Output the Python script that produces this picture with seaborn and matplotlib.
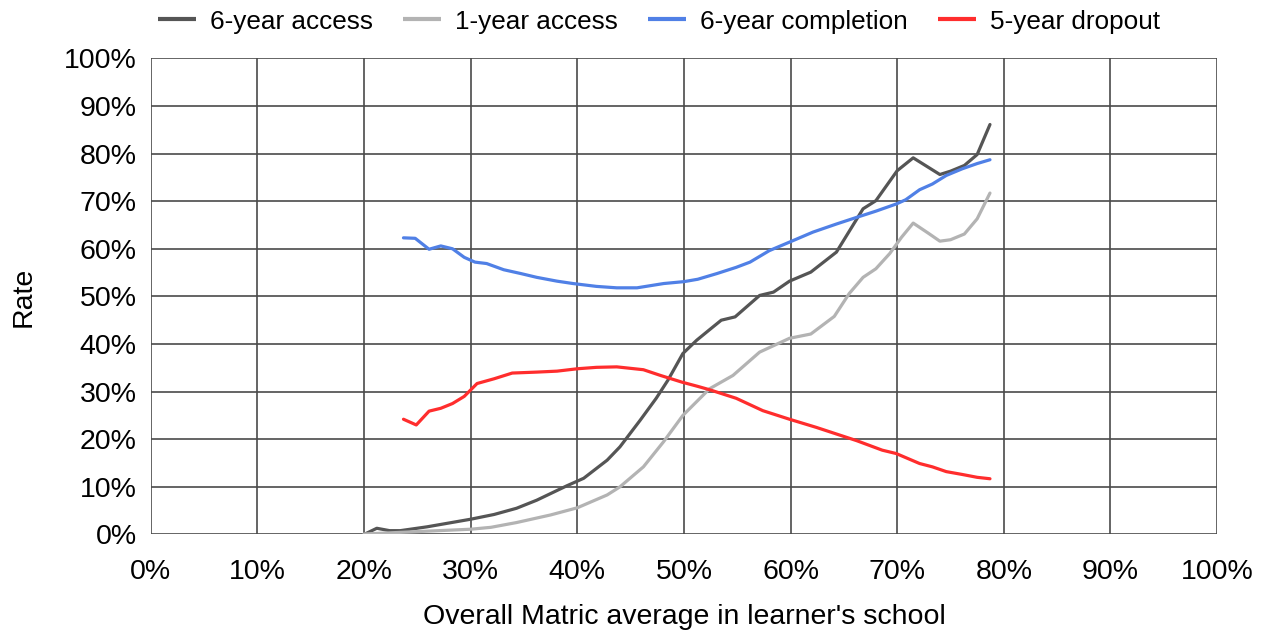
import matplotlib
matplotlib.use("Agg")
import matplotlib.pyplot as plt
from matplotlib.ticker import PercentFormatter, MultipleLocator
import seaborn as sns
import pandas as pd

# Series values (percent), each against the school's overall matric average (percent)
access6_x = [20, 21.2, 22.4, 23.4, 25.9, 30, 32.2, 34.3, 36.2, 39, 40.6, 42.8, 44, 45.9,
             47.4, 48.5, 49.9, 51.2, 52.4, 53.5, 54.8, 57.1, 58.4, 59.9, 61.9, 64.3, 66.8,
             68, 70, 71.5, 74, 75, 76.3, 77.5, 78.7]
access6_y = [0, 1.3, 0.8, 0.8, 1.6, 3.2, 4.2, 5.5, 7.2, 10.2, 11.8, 15.6, 18.4, 24,
             28.6, 32.4, 38, 40.8, 43, 45, 45.7, 50.2, 50.9, 53.2, 55.1, 59.3, 68.4,
             70.1, 76.4, 79.1, 75.6, 76.3, 77.5, 79.8, 86.1]

access1_x = [20, 25, 30, 31.9, 34.3, 37.5, 40, 42.8, 44, 46.2, 48.1, 49.9, 52.4, 54.6,
             57.1, 59.9, 61.9, 64.1, 65.5, 66.8, 68, 69.3, 70.4, 71.5, 72.9, 74, 75,
             76.3, 77.5, 78.7]
access1_y = [0.1, 0.6, 1.1, 1.5, 2.5, 4.1, 5.6, 8.3, 10, 14.2, 19.5, 25, 30.6, 33.4,
             38.3, 41.2, 42.1, 45.8, 50.6, 54, 55.8, 59, 62.4, 65.4, 63.3, 61.6, 61.9,
             63.1, 66.3, 71.7]

complete6_x = [23.7, 24.8, 26.1, 27.2, 28.3, 29.4, 30.4, 31.5, 33.1, 34.7, 36.2, 38.1,
               39.6, 41.8, 43.7, 45.6, 48.1, 50, 51.3, 53.1, 54.9, 56.2, 58, 59.9, 62.1,
               64.3, 66.2, 68, 69.9, 70.8, 72.1, 73.3, 74.6, 76.1, 77.5, 78.7]
complete6_y = [62.3, 62.2, 59.9, 60.6, 60, 58.2, 57.2, 56.9, 55.6, 54.8, 54, 53.2,
               52.7, 52.1, 51.8, 51.8, 52.7, 53.1, 53.6, 54.8, 56.1, 57.2, 59.6, 61.4, 63.5,
               65.2, 66.6, 67.9, 69.4, 70.3, 72.4, 73.6, 75.4, 76.8, 77.9, 78.7]

dropout5_x = [23.7, 24.9, 26.1, 27.2, 28.3, 29.4, 30.6, 32.2, 33.9, 36.2, 38.1, 40, 41.8,
              43.7, 46.2, 47.8, 49.8, 51.3, 52.4, 54.9, 57.4, 59.9, 62.4, 66.2, 68.6,
              69.9, 72.1, 73.3, 74.6, 76.1, 77.5, 78.7]
dropout5_y = [24.2, 23, 25.9, 26.5, 27.5, 29, 31.7, 32.7, 33.9, 34.1, 34.3, 34.8, 35.1,
              35.2, 34.6, 33.4, 32, 31.1, 30.4, 28.6, 26, 24.2, 22.5, 19.7, 17.7,
              17, 14.9, 14.2, 13.2, 12.6, 12, 11.7]

series_names = ["6-year access", "1-year access", "6-year completion", "5-year dropout"]
series_colors = ["#555555", "#b3b3b3", "#5080e6", "#ff2d2d"]

frames = []
for name, xs, ys in zip(series_names,
                        [access6_x, access1_x, complete6_x, dropout5_x],
                        [access6_y, access1_y, complete6_y, dropout5_y]):
    frames.append(pd.DataFrame({"avg": xs, "rate": ys, "series": name}))
df = pd.concat(frames, ignore_index=True)

sns.set_style("white")
plt.rcParams["font.family"] = ["Liberation Sans", "DejaVu Sans"]
plt.rcParams["text.color"] = "black"
plt.rcParams["axes.labelcolor"] = "black"

fig = plt.figure(figsize=(12.71, 6.34), dpi=100)
ax = fig.add_axes([0.1186, 0.157, 0.839, 0.751])

sns.lineplot(data=df, x="avg", y="rate", hue="series", hue_order=series_names,
             palette=series_colors, estimator=None, sort=False, linewidth=2.3,
             ax=ax, legend=False)

ax.set_xlim(0, 100)
ax.set_ylim(0, 100)
ax.xaxis.set_major_locator(MultipleLocator(10))
ax.yaxis.set_major_locator(MultipleLocator(10))
ax.xaxis.set_major_formatter(PercentFormatter(100, decimals=0))
ax.yaxis.set_major_formatter(PercentFormatter(100, decimals=0))

grid_color = "#4a4a4a"
ax.grid(True, color=grid_color, linewidth=1.2, zorder=0)
ax.set_axisbelow(True)
for side in ax.spines.values():
    side.set_visible(False)
ax.tick_params(axis="both", length=8, width=1.2, color=grid_color,
               labelsize=20.5, labelcolor="black", direction="out")
ax.tick_params(axis="x", pad=10)
ax.tick_params(axis="y", length=0, pad=10)

ax.set_xlabel("Overall Matric average in learner's school", fontsize=20.5, labelpad=13)
ax.set_ylabel("Rate", fontsize=20.5, labelpad=20)

handles = [plt.Line2D([], [], color=c, linewidth=3, solid_capstyle="butt")
           for c in series_colors]
fig.legend(handles, series_names, loc="center", bbox_to_anchor=(0.5185, 0.966),
           ncol=4, frameon=False, fontsize=18.8, handlelength=1.45, handletextpad=0.55,
           columnspacing=1.15, borderaxespad=0, borderpad=0)

fig.savefig("out.png", dpi=100)
